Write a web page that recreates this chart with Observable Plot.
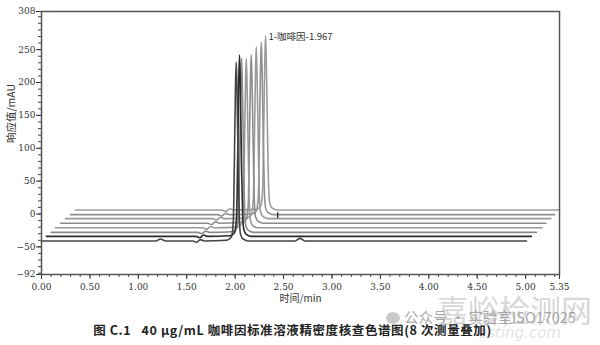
<!DOCTYPE html>
<html><head><meta charset="utf-8">
<script src="https://cdn.jsdelivr.net/npm/d3@7"></script>
<script src="https://cdn.jsdelivr.net/npm/@observablehq/plot@0.6"></script>
<style>
body{margin:0;background:#fff;width:600px;height:345px;position:relative;overflow:hidden}
#chart{position:absolute;left:0;top:0}
#cap{position:absolute;top:320px;left:0;width:585px;text-align:center;font:bold 12.5px "Noto Sans CJK SC";letter-spacing:0.6px;color:#222;white-space:nowrap}
.wm1{position:absolute;left:437px;top:293px;font:31px/1 "Noto Sans CJK SC";color:#d2d2d2;opacity:.85;white-space:nowrap}
.wm2{position:absolute;left:404px;top:310px;font:14.5px/1 "Noto Sans CJK SC";color:#9a9a9a;opacity:.85;white-space:nowrap}
.wm3{position:absolute;left:478px;top:326px;font:italic 15px/1 "DejaVu Sans";color:#e4e4e4;white-space:nowrap}
.wc{position:absolute;left:386px;top:312px;width:14px;height:12px;border-radius:50%;background:#bbb;opacity:.8}
</style></head>
<body>
<div id="chart"></div>
<div class="wm3">esting.com</div>
<div class="wm1">嘉峪检测网</div>
<div id="cap">图 C.1&nbsp;&nbsp;&nbsp;40 μg/mL 咖啡因标准溶液精密度核查色谱图(8 次测量叠加)</div>
<div class="wc"></div>
<div class="wm2">公众号 · 实验室ISO17025</div>
<script>
const xTicks = [0, 0.5, 1, 1.5, 2, 2.5, 3, 3.5, 4, 4.5, 5, 5.35];
const yTicks = [-92, -50, 0, 50, 100, 150, 200, 250, 308];
const peakLabel = "1-咖啡因-1.967";

const t1 = [0, 1.18, 1.23, 1.28, 1.561, 1.601, 1.641, 1.681, 1.911, 1.961, 1.981, 1.993, 2.003, 2.011, 2.019, 2.031, 2.043, 2.056, 2.081, 2.131, 2.62, 2.67, 2.72, 5.01];
const v1 = [-41, -41, -38, -41, -41, -43, -39, -41, -40, -35, -11, 89, 190, 231, 190, 79, -6, -31, -38, -41, -41, -37, -41, -41];
const t2 = [0.05, 1.595, 1.635, 1.675, 1.715, 1.945, 1.995, 2.015, 2.027, 2.037, 2.045, 2.053, 2.065, 2.077, 2.090, 2.115, 2.165, 5.06];
const v2 = [-34, -34, -36, -32, -34, -33, -28, -4, 96, 201, 242, 201, 86, 1, -24, -31, -34, -34];
const t3 = [0.10, 1.616, 1.656, 1.696, 1.736, 1.966, 2.016, 2.036, 2.048, 2.058, 2.066, 2.074, 2.086, 2.098, 2.111, 2.136, 2.186, 5.11];
const v3 = [-28, -28, -30, -26, -28, -27, -22, 2, 102, 197, 237, 197, 92, 7, -18, -25, -28, -28];
const t4 = [0.145, 1.665, 1.705, 1.745, 1.785, 2.015, 2.065, 2.085, 2.097, 2.107, 2.115, 2.123, 2.135, 2.147, 2.160, 2.185, 2.235, 5.17];
const v4 = [-21, -21, -23, -19, -21, -20, -15, 9, 109, 197, 236, 197, 99, 14, -11, -18, -21, -21];
const t5 = [0.196, 1.716, 1.756, 1.796, 1.836, 2.066, 2.116, 2.136, 2.148, 2.158, 2.166, 2.174, 2.186, 2.198, 2.211, 2.236, 2.286, 5.21];
const v5 = [-14, -14, -16, -12, -14, -13, -8, 16, 116, 204, 242, 204, 106, 21, -4, -11, -14, -14];
const t6 = [0.248, 1.768, 1.808, 1.848, 1.888, 2.118, 2.168, 2.188, 2.200, 2.210, 2.218, 2.226, 2.238, 2.250, 2.263, 2.288, 2.338, 5.26];
const v6 = [-7, -7, -9, -5, -7, -6, -1, 23, 123, 215, 254, 215, 113, 28, 3, -4, -7, -7];
const t7 = [0.30, 1.820, 1.860, 1.900, 1.940, 2.170, 2.220, 2.240, 2.252, 2.262, 2.270, 2.278, 2.290, 2.302, 2.315, 2.340, 2.390, 5.30];
const v7 = [-1, -1, -3, 1, -1, 0, 5, 29, 129, 222, 261, 222, 119, 34, 9, 2, -1, -1];
const t8 = [0.35, 1.864, 1.904, 1.944, 1.984, 2.214, 2.264, 2.284, 2.296, 2.306, 2.314, 2.322, 2.334, 2.346, 2.359, 2.384, 2.434, 5.35];
const v8 = [6, 6, 4, 8, 6, 7, 12, 36, 136, 231, 271, 231, 126, 41, 16, 9, 6, 6];

const runTimes = [t1, t2, t3, t4, t5, t6, t7, t8];
const runValues = [v1, v2, v3, v4, v5, v6, v7, v8];
const runColors = ["#444", "#2a2a2a", "#8a8a8a", "#999", "#8c8c8c", "#9a9a9a", "#909090", "#9c9c9c"];
const endMarkerT = [2.44];

const runMarks = [];
for (let k = runTimes.length - 1; k >= 0; k--) {
  const rows = runTimes[k].map((t, i) => ({t, v: runValues[k][i]}));
  runMarks.push(Plot.line(rows, {x: "t", y: "v", stroke: runColors[k], strokeWidth: 1.6, curve: "monotone-x"}));
}

const chart = Plot.plot({
  width: 600, height: 312,
  marginTop: 11, marginLeft: 41, marginRight: 41, marginBottom: 38,
  style: {fontFamily: "DejaVu Serif", fontSize: "9px", color: "#333", background: "#fff"},
  x: {domain: [0, 5.35], label: null},
  y: {domain: [-92, 308], label: null},
  marks: [
    Plot.axisX(d3.range(0, 5.36, 0.1), {tickSize: 3, text: null, label: null, stroke: "#444"}),
    Plot.axisX(xTicks, {tickSize: 5, tickPadding: 4, tickFormat: d3.format(".2f"), label: null, stroke: "#333", fill: "#333"}),
    Plot.axisY(d3.range(-90, 308, 10), {tickSize: 3, text: null, label: null, stroke: "#444"}),
    Plot.axisY(yTicks, {tickSize: 5, tickPadding: 1, label: null, stroke: "#333", fill: "#333"}),
    ...runMarks,
    Plot.ruleX(endMarkerT, {x: d => d, y1: -7, y2: 2, stroke: "#222", strokeWidth: 1.3}),
    Plot.text([peakLabel], {x: 2.345, y: 270, text: d => d, textAnchor: "start", fontFamily: "Noto Sans CJK SC", fontSize: 9.5, fill: "#333"}),
    Plot.text(["响应值/mAU"], {frameAnchor: "left", text: d => d, rotate: -90, dx: -30, fontFamily: "Noto Sans CJK SC", fontSize: 10.5, fill: "#333"}),
    Plot.text(["时间/min"], {frameAnchor: "bottom", text: d => d, dy: 27, fontFamily: "Noto Sans CJK SC", fontSize: 10, fill: "#333"}),
    Plot.frame({stroke: "#555", strokeWidth: 1.5})
  ]
});
document.getElementById("chart").appendChild(chart);
</script>
</body></html>
